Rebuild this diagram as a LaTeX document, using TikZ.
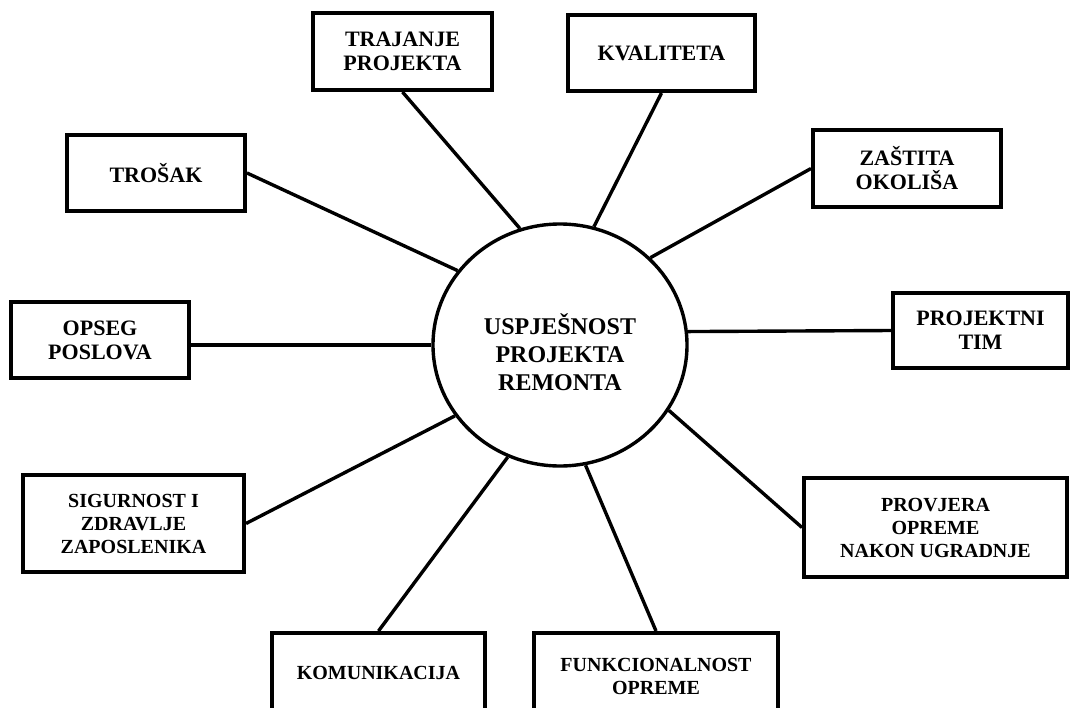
\documentclass[tikz,border=0pt]{standalone}
\usepackage{fontspec}
\setmainfont{Liberation Serif}
\usetikzlibrary{shapes.geometric}

\begin{document}
\begin{tikzpicture}[x=1pt, y=-1pt,
        factor/.style={draw, rectangle, line width=4pt, inner sep=0pt, align=center,
            font=\bfseries\fontsize{22}{24}\selectfont},
        smallfactor/.style={factor, font=\bfseries\fontsize{20}{23}\selectfont},
        link/.style={line width=3.4pt}]
        \useasboundingbox (0,0) rectangle (1071,707);

        % Central goal
        \node[draw, ellipse, line width=3.4pt, minimum width=254pt, minimum height=242pt,
            inner sep=0pt] (goal) at (560,345) {};
        \node[align=center, font=\bfseries\fontsize{24}{28}\selectfont]
            (goaltext) at ([yshift=-7pt]goal.center) {USPJEŠNOST\\PROJEKTA\\REMONTA};

        % Factors around it
        \node[factor, minimum width=179pt, minimum height=77pt] (trajanje) at (402.5,51.5) {TRAJANJE\\PROJEKTA};
        \node[factor, minimum width=187pt, minimum height=76pt] (kvaliteta) at (661.5,53) {KVALITETA};
        \node[factor, minimum width=178pt, minimum height=76pt] (trosak) at (156,173) {TROŠAK};
        \node[factor, minimum width=188pt, minimum height=77pt] (zastita) at (907,168.5) {ZAŠTITA\\OKOLIŠA};
        \node[factor, minimum width=178pt, minimum height=76pt] (opseg) at (100,340) {OPSEG\\POSLOVA};
        \node[factor, minimum width=175pt, minimum height=75pt] (tim) at (980.5,330.5) {PROJEKTNI\\TIM};
        \node[smallfactor, minimum width=221pt, minimum height=97pt] (sigurnost) at (133.5,523.5) {SIGURNOST I\\ZDRAVLJE\\ZAPOSLENIKA};
        \node[smallfactor, minimum width=263pt, minimum height=99pt] (provjera) at (935.5,527.5) {PROVJERA\\OPREME\\NAKON UGRADNJE};
        \node[smallfactor, minimum width=213pt, minimum height=80pt] (komunikacija) at (378.5,673) {KOMUNIKACIJA};
        \node[smallfactor, minimum width=244pt, minimum height=86pt] (funkcionalnost) at (656,676) {FUNKCIONALNOST\\OPREME};

        % Links to the goal
        \draw[link] (trajanje.south) -- (goal.109);
        \draw[link] (kvaliteta.south) -- (goal.74);
        \draw[link] (trosak.east) -- (goal.144);
        \draw[link] (zastita.west) -- (goal.44);
        \draw[link] (opseg.east |- goal.west) -- (goal.west);
        \draw[link] (tim.west) -- (goal.6);
        \draw[link] (sigurnost.east) -- (goal.214);
        \draw[link] (provjera.west) -- (goal.329);
        \draw[link] (komunikacija.north) -- (goal.245);
        \draw[link] (funkcionalnost.north) -- (goal.282);
    \end{tikzpicture}
\end{document}
